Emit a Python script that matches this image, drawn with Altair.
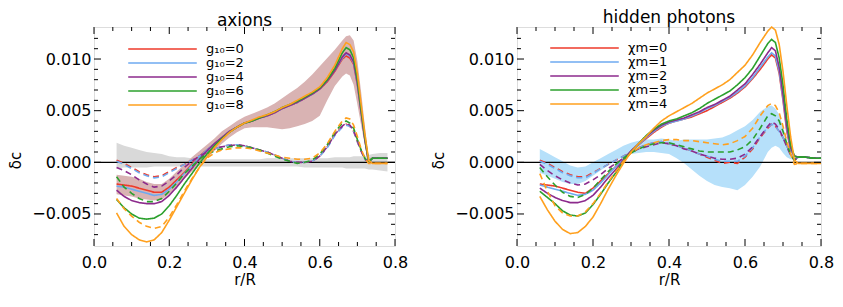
import altair as alt
import pandas as pd

# ---------------- data ----------------
R_LEFT = [0.06, 0.08, 0.10, 0.12, 0.14, 0.16, 0.18, 0.20, 0.22, 0.24, 0.26, 0.28, 0.30, 0.32,
          0.34, 0.36, 0.38, 0.40, 0.42, 0.44, 0.46, 0.48, 0.50, 0.52, 0.54, 0.56, 0.58, 0.60,
          0.62, 0.64, 0.66, 0.67, 0.68, 0.69, 0.70, 0.71, 0.72, 0.73, 0.74, 0.76, 0.78]
R_RIGHT = R_LEFT + [0.80]

AX_LABELS = ["g\u2081\u2080=0", "g\u2081\u2080=2", "g\u2081\u2080=4", "g\u2081\u2080=6", "g\u2081\u2080=8"]
HP_LABELS = ["\u03c7m=0", "\u03c7m=1", "\u03c7m=2", "\u03c7m=3", "\u03c7m=4"]
COLORS = ["#ee3a2a", "#6eaaf0", "#8c2a8c", "#2ba02d", "#ffa01e"]

# axions, solid
L_red_solid = [-0.0021, -0.0022, -0.0023, -0.0025, -0.0027, -0.0029, -0.0029, -0.0024, -0.0017, -0.0010, -0.0002, 0.0006, 0.0012, 0.0018, 0.0024, 0.0030, 0.0034, 0.0038, 0.0040, 0.0043, 0.0045, 0.0048, 0.0052, 0.0055, 0.0058, 0.0062, 0.0066, 0.0071, 0.0078, 0.0088, 0.0100, 0.0103, 0.0101, 0.0095, 0.0075, 0.0048, 0.0022, 0.0000, 0.0004, 0.0004, 0.0004]
L_blue_solid = [-0.0023, -0.0024, -0.0026, -0.0028, -0.0030, -0.0032, -0.0031, -0.0026, -0.0019, -0.0011, -0.0003, 0.0005, 0.0012, 0.0018, 0.0024, 0.0030, 0.0034, 0.0038, 0.0040, 0.0043, 0.0045, 0.0048, 0.0052, 0.0055, 0.0058, 0.0062, 0.0066, 0.0071, 0.0079, 0.0089, 0.0101, 0.0105, 0.0103, 0.0096, 0.0076, 0.0049, 0.0022, 0.0000, 0.0004, 0.0004, 0.0004]
L_purple_solid = [-0.0027, -0.0033, -0.0037, -0.0039, -0.0040, -0.0040, -0.0038, -0.0032, -0.0024, -0.0015, -0.0006, 0.0003, 0.0011, 0.0018, 0.0024, 0.0030, 0.0034, 0.0038, 0.0040, 0.0043, 0.0045, 0.0048, 0.0052, 0.0055, 0.0058, 0.0062, 0.0066, 0.0071, 0.0079, 0.0089, 0.0102, 0.0106, 0.0104, 0.0097, 0.0077, 0.0049, 0.0022, 0.0000, 0.0004, 0.0004, 0.0004]
L_green_solid = [-0.0036, -0.0044, -0.0050, -0.0054, -0.0055, -0.0054, -0.0050, -0.0042, -0.0032, -0.0021, -0.0011, -0.0001, 0.0008, 0.0016, 0.0023, 0.0029, 0.0034, 0.0038, 0.0040, 0.0043, 0.0046, 0.0049, 0.0053, 0.0056, 0.0059, 0.0063, 0.0067, 0.0072, 0.0080, 0.0091, 0.0106, 0.0111, 0.0109, 0.0101, 0.0080, 0.0051, 0.0024, 0.0001, 0.0004, 0.0004, 0.0004]
L_orange_solid = [-0.0049, -0.0062, -0.0070, -0.0075, -0.0077, -0.0075, -0.0068, -0.0056, -0.0043, -0.0030, -0.0017, -0.0005, 0.0005, 0.0014, 0.0022, 0.0029, 0.0034, 0.0038, 0.0041, 0.0044, 0.0046, 0.0049, 0.0053, 0.0056, 0.0060, 0.0064, 0.0068, 0.0073, 0.0082, 0.0094, 0.0110, 0.0116, 0.0114, 0.0107, 0.0086, 0.0056, 0.0027, 0.0002, -0.0001, -0.0001, -0.0001]
# axions, dashed
L_red_dash = [0.0002, -0.0001, -0.0005, -0.0009, -0.0012, -0.0014, -0.0013, -0.0009, -0.0005, -0.0002, 0.0002, 0.0006, 0.0010, 0.0013, 0.0015, 0.0017, 0.0017, 0.0016, 0.0014, 0.0012, 0.0010, 0.0007, 0.0004, 0.0001, 0.0000, 0.0000, 0.0001, 0.0006, 0.0015, 0.0027, 0.0035, 0.0037, 0.0035, 0.0030, 0.0020, 0.0011, 0.0003, 0.0000, 0.0004, 0.0004, 0.0004]
L_blue_dash = [0.0001, -0.0002, -0.0006, -0.0010, -0.0013, -0.0015, -0.0014, -0.0010, -0.0006, -0.0002, 0.0002, 0.0006, 0.0010, 0.0013, 0.0015, 0.0017, 0.0017, 0.0016, 0.0014, 0.0012, 0.0010, 0.0007, 0.0004, 0.0001, 0.0000, 0.0000, 0.0001, 0.0006, 0.0014, 0.0026, 0.0034, 0.0036, 0.0035, 0.0030, 0.0020, 0.0011, 0.0003, 0.0000, 0.0004, 0.0004, 0.0004]
L_purple_dash = [-0.0005, -0.0008, -0.0012, -0.0017, -0.0021, -0.0024, -0.0023, -0.0018, -0.0012, -0.0005, 0.0001, 0.0006, 0.0010, 0.0013, 0.0015, 0.0016, 0.0017, 0.0016, 0.0014, 0.0012, 0.0010, 0.0007, 0.0004, 0.0001, 0.0000, 0.0000, 0.0001, 0.0006, 0.0015, 0.0027, 0.0035, 0.0038, 0.0036, 0.0031, 0.0021, 0.0011, 0.0003, 0.0000, 0.0004, 0.0004, 0.0004]
L_green_dash = [-0.0014, -0.0024, -0.0030, -0.0035, -0.0038, -0.0038, -0.0035, -0.0028, -0.0020, -0.0011, -0.0004, 0.0003, 0.0008, 0.0011, 0.0013, 0.0015, 0.0016, 0.0015, 0.0014, 0.0012, 0.0009, 0.0006, 0.0003, 0.0001, -0.0001, 0.0000, 0.0002, 0.0008, 0.0017, 0.0029, 0.0038, 0.0040, 0.0038, 0.0033, 0.0022, 0.0012, 0.0004, 0.0000, 0.0004, 0.0004, 0.0004]
L_orange_dash = [-0.0035, -0.0045, -0.0052, -0.0058, -0.0062, -0.0064, -0.0062, -0.0053, -0.0041, -0.0028, -0.0016, -0.0005, 0.0004, 0.0009, 0.0012, 0.0013, 0.0014, 0.0014, 0.0013, 0.0011, 0.0009, 0.0007, 0.0005, 0.0004, 0.0003, 0.0003, 0.0004, 0.0009, 0.0018, 0.0030, 0.0040, 0.0043, 0.0042, 0.0036, 0.0025, 0.0013, 0.0004, -0.0001, -0.0001, -0.0001, -0.0001]
# axions, bands
GREY_HI = [0.0019, 0.0016, 0.0014, 0.0012, 0.0010, 0.0009, 0.0008, 0.0006, 0.0005, 0.0005, 0.0004, 0.0004, 0.0003, 0.0003, 0.0003, 0.0003, 0.0003, 0.0003, 0.0003, 0.0003, 0.0004, 0.0004, 0.0004, 0.0004, 0.0004, 0.0004, 0.0004, 0.0004, 0.0004, 0.0005, 0.0005, 0.0005, 0.0005, 0.0006, 0.0006, 0.0006, 0.0006, 0.0007, 0.0008, 0.0009, 0.0009]
GREY_LO = [-0.0006, -0.0005, -0.0005, -0.0005, -0.0005, -0.0004, -0.0004, -0.0004, -0.0004, -0.0004, -0.0004, -0.0004, -0.0004, -0.0004, -0.0004, -0.0004, -0.0004, -0.0004, -0.0004, -0.0004, -0.0004, -0.0004, -0.0004, -0.0004, -0.0004, -0.0005, -0.0005, -0.0005, -0.0005, -0.0005, -0.0005, -0.0006, -0.0006, -0.0006, -0.0006, -0.0006, -0.0006, -0.0007, -0.0007, -0.0008, -0.0009]
ROSY_HI = [-0.0012, -0.0013, -0.0014, -0.0016, -0.0019, -0.0021, -0.0021, -0.0016, -0.0009, -0.0002, 0.0005, 0.0011, 0.0017, 0.0023, 0.0030, 0.0035, 0.0040, 0.0044, 0.0047, 0.0050, 0.0053, 0.0057, 0.0062, 0.0067, 0.0072, 0.0078, 0.0085, 0.0093, 0.0101, 0.0109, 0.0118, 0.0122, 0.0123, 0.0118, 0.0098, 0.0068, 0.0035, 0.0005, 0.0004, 0.0004, 0.0004]
ROSY_LO = [-0.0031, -0.0032, -0.0033, -0.0035, -0.0036, -0.0037, -0.0036, -0.0031, -0.0024, -0.0016, -0.0009, -0.0002, 0.0004, 0.0011, 0.0018, 0.0024, 0.0029, 0.0033, 0.0034, 0.0034, 0.0034, 0.0033, 0.0032, 0.0033, 0.0035, 0.0037, 0.0040, 0.0045, 0.0060, 0.0074, 0.0083, 0.0086, 0.0084, 0.0075, 0.0056, 0.0036, 0.0016, 0.0000, 0.0004, 0.0004, 0.0004]

# hidden photons, solid
R_red_solid = [-0.0021, -0.0022, -0.0023, -0.0025, -0.0027, -0.0029, -0.0030, -0.0025, -0.0018, -0.0011, -0.0004, 0.0003, 0.0011, 0.0017, 0.0023, 0.0029, 0.0034, 0.0038, 0.0040, 0.0042, 0.0044, 0.0047, 0.0050, 0.0054, 0.0058, 0.0062, 0.0067, 0.0073, 0.0081, 0.0090, 0.0100, 0.0104, 0.0101, 0.0086, 0.0060, 0.0030, 0.0012, 0.0006, 0.0005, 0.0005, 0.0004, 0.0004]
R_blue_solid = [-0.0022, -0.0024, -0.0026, -0.0028, -0.0030, -0.0032, -0.0031, -0.0027, -0.0020, -0.0012, -0.0004, 0.0003, 0.0011, 0.0017, 0.0024, 0.0030, 0.0035, 0.0038, 0.0040, 0.0042, 0.0045, 0.0048, 0.0052, 0.0055, 0.0059, 0.0063, 0.0068, 0.0074, 0.0082, 0.0092, 0.0102, 0.0106, 0.0103, 0.0088, 0.0062, 0.0032, 0.0013, 0.0006, 0.0005, 0.0005, 0.0004, 0.0004]
R_purple_solid = [-0.0025, -0.0030, -0.0034, -0.0037, -0.0039, -0.0039, -0.0037, -0.0032, -0.0024, -0.0015, -0.0007, 0.0002, 0.0011, 0.0018, 0.0025, 0.0031, 0.0036, 0.0039, 0.0041, 0.0043, 0.0046, 0.0049, 0.0053, 0.0056, 0.0060, 0.0064, 0.0070, 0.0076, 0.0085, 0.0095, 0.0106, 0.0111, 0.0108, 0.0092, 0.0066, 0.0035, 0.0014, 0.0006, 0.0005, 0.0005, 0.0004, 0.0004]
R_green_solid = [-0.0028, -0.0034, -0.0040, -0.0047, -0.0051, -0.0052, -0.0049, -0.0041, -0.0031, -0.0020, -0.0010, 0.0001, 0.0010, 0.0018, 0.0026, 0.0032, 0.0037, 0.0040, 0.0042, 0.0045, 0.0048, 0.0052, 0.0057, 0.0061, 0.0065, 0.0069, 0.0075, 0.0082, 0.0091, 0.0103, 0.0115, 0.0119, 0.0116, 0.0101, 0.0075, 0.0042, 0.0017, 0.0006, 0.0005, 0.0005, 0.0004, 0.0004]
R_orange_solid = [-0.0033, -0.0046, -0.0057, -0.0065, -0.0069, -0.0068, -0.0062, -0.0053, -0.0040, -0.0026, -0.0013, -0.0001, 0.0010, 0.0018, 0.0025, 0.0033, 0.0040, 0.0045, 0.0049, 0.0053, 0.0057, 0.0062, 0.0067, 0.0071, 0.0075, 0.0080, 0.0087, 0.0094, 0.0104, 0.0116, 0.0127, 0.0131, 0.0128, 0.0114, 0.0088, 0.0055, 0.0025, 0.0002, -0.0001, -0.0001, -0.0001, -0.0001]
# hidden photons, dashed
R_red_dash = [0.0002, -0.0001, -0.0005, -0.0009, -0.0012, -0.0014, -0.0014, -0.0010, -0.0006, -0.0002, 0.0002, 0.0006, 0.0010, 0.0014, 0.0017, 0.0019, 0.0020, 0.0018, 0.0016, 0.0014, 0.0011, 0.0008, 0.0005, 0.0002, -0.0001, 0.0000, -0.0001, 0.0005, 0.0013, 0.0024, 0.0033, 0.0037, 0.0035, 0.0030, 0.0024, 0.0016, 0.0008, 0.0002, 0.0005, 0.0005, 0.0004, 0.0004]
R_blue_dash = [0.0001, -0.0002, -0.0006, -0.0010, -0.0013, -0.0015, -0.0015, -0.0011, -0.0006, -0.0002, 0.0002, 0.0006, 0.0010, 0.0014, 0.0017, 0.0019, 0.0020, 0.0018, 0.0016, 0.0014, 0.0011, 0.0008, 0.0006, 0.0003, 0.0001, 0.0001, 0.0001, 0.0006, 0.0014, 0.0025, 0.0034, 0.0037, 0.0035, 0.0030, 0.0024, 0.0016, 0.0008, 0.0002, 0.0005, 0.0005, 0.0004, 0.0004]
R_purple_dash = [-0.0002, -0.0008, -0.0013, -0.0017, -0.0020, -0.0022, -0.0021, -0.0017, -0.0012, -0.0006, -0.0001, 0.0004, 0.0009, 0.0013, 0.0015, 0.0017, 0.0019, 0.0018, 0.0016, 0.0013, 0.0011, 0.0008, 0.0006, 0.0004, 0.0003, 0.0003, 0.0004, 0.0008, 0.0015, 0.0025, 0.0035, 0.0039, 0.0037, 0.0032, 0.0024, 0.0015, 0.0007, 0.0002, 0.0005, 0.0005, 0.0004, 0.0004]
R_green_dash = [-0.0005, -0.0014, -0.0022, -0.0029, -0.0033, -0.0034, -0.0031, -0.0025, -0.0017, -0.0009, -0.0002, 0.0004, 0.0009, 0.0013, 0.0016, 0.0018, 0.0019, 0.0019, 0.0017, 0.0015, 0.0013, 0.0011, 0.0010, 0.0010, 0.0010, 0.0010, 0.0012, 0.0015, 0.0022, 0.0033, 0.0045, 0.0047, 0.0045, 0.0040, 0.0030, 0.0018, 0.0008, 0.0002, 0.0005, 0.0005, 0.0004, 0.0004]
R_orange_dash = [-0.0011, -0.0028, -0.0042, -0.0049, -0.0052, -0.0052, -0.0048, -0.0040, -0.0030, -0.0019, -0.0009, 0.0001, 0.0009, 0.0014, 0.0017, 0.0019, 0.0021, 0.0022, 0.0022, 0.0021, 0.0021, 0.0020, 0.0019, 0.0018, 0.0017, 0.0018, 0.0021, 0.0025, 0.0033, 0.0045, 0.0055, 0.0057, 0.0055, 0.0048, 0.0035, 0.0020, 0.0008, -0.0002, -0.0001, -0.0001, -0.0001, -0.0001]
# hidden photons, band
BLUE_HI = [0.0013, 0.0009, 0.0005, 0.0001, -0.0003, -0.0005, -0.0004, 0.0000, 0.0004, 0.0008, 0.0012, 0.0016, 0.0019, 0.0021, 0.0022, 0.0022, 0.0023, 0.0022, 0.0021, 0.0022, 0.0022, 0.0022, 0.0022, 0.0023, 0.0024, 0.0027, 0.0031, 0.0035, 0.0041, 0.0049, 0.0054, 0.0055, 0.0052, 0.0046, 0.0035, 0.0022, 0.0010, 0.0004, 0.0004, 0.0004, 0.0004, 0.0004]
BLUE_LO = [-0.0010, -0.0013, -0.0016, -0.0019, -0.0021, -0.0021, -0.0018, -0.0013, -0.0008, -0.0003, 0.0002, 0.0005, 0.0008, 0.0009, 0.0010, 0.0010, 0.0009, 0.0008, 0.0004, -0.0001, -0.0007, -0.0013, -0.0018, -0.0022, -0.0024, -0.0025, -0.0027, -0.0022, -0.0014, -0.0004, 0.0010, 0.0014, 0.0016, 0.0014, 0.0009, 0.0005, 0.0003, 0.0003, 0.0004, 0.0004, 0.0004, 0.0004]

X_MAJOR = [0.0, 0.2, 0.4, 0.6, 0.8]
X_MINOR = [0.05, 0.10, 0.15, 0.25, 0.30, 0.35, 0.45, 0.50, 0.55, 0.65, 0.70, 0.75]
Y_MAJOR = [-0.005, 0.0, 0.005, 0.010]
Y_MINOR = [-0.007, -0.006, -0.004, -0.003, -0.002, -0.001, 0.001, 0.002, 0.003, 0.004,
           0.006, 0.007, 0.008, 0.009, 0.011, 0.012]

FONT = "DejaVu Sans"
X_DOMAIN = [0.0, 0.8]
Y_DOMAIN = [-0.0081, 0.0131]
H = 219

XAXIS = alt.Axis(values=X_MAJOR, format=".1f", ticks=False, domain=False, grid=False,
                 labelFont=FONT, labelFontSize=16, labelColor="black", labelPadding=8,
                 titleFont=FONT, titleFontSize=15, titleFontWeight="normal",
                 titleColor="black", titlePadding=2, labelFlush=False, title="r/R")
YAXIS = alt.Axis(values=Y_MAJOR, format=".3f", ticks=False, domain=False, grid=False,
                 labelFont=FONT, labelFontSize=16, labelColor="black", labelPadding=3,
                 titleFont=FONT, titleFontSize=15, titleFontWeight="normal",
                 titleColor="black", titlePadding=8, titleY=133, labelFlush=False, title="\u03b4c")


def long_table(r, labels, solids, dashes):
    rows = []
    for lab, s, d in zip(labels, solids, dashes):
        for rv, v in zip(r, s):
            rows.append({"r": rv, "dc": v, "series": lab, "kind": "solid"})
        for rv, v in zip(r, d):
            rows.append({"r": rv, "dc": v, "series": lab, "kind": "dashed"})
    return pd.DataFrame(rows)


def panel(title, r, labels, solids, dashes, bands, width, lx, ly):
    xs = alt.Scale(domain=X_DOMAIN, nice=False, zero=False)
    ys = alt.Scale(domain=Y_DOMAIN, nice=False, zero=False)
    layers = []
    for lo, hi, col in bands:
        bdf = pd.DataFrame({"r": r, "lo": lo, "hi": hi})
        layers.append(alt.Chart(bdf).mark_area(color=col, opacity=1).encode(
            x=alt.X("r:Q", scale=xs, axis=XAXIS),
            y=alt.Y("lo:Q", scale=ys, axis=YAXIS),
            y2="hi:Q"))
    layers.append(alt.Chart(pd.DataFrame({"r": [0.0]})).mark_rule(color="black", strokeWidth=1.3).encode(
        y=alt.Y(datum=0.0, scale=ys, axis=YAXIS)))
    df = long_table(r, labels, solids, dashes)
    lines = alt.Chart(df).mark_line(strokeWidth=1.6).encode(
        x=alt.X("r:Q", scale=xs, axis=XAXIS),
        y=alt.Y("dc:Q", scale=ys, axis=YAXIS),
        color=alt.Color("series:N", scale=alt.Scale(domain=labels, range=COLORS),
                        legend=alt.Legend(orient="none", legendX=lx, legendY=ly, title=None,
                                          symbolType="stroke", symbolSize=4700, symbolStrokeWidth=1.6,
                                          clipHeight=14, rowPadding=0, labelOffset=8,
                                          labelFont=FONT, labelFontSize=13, labelColor="black",
                                          padding=0)),
        strokeDash=alt.StrokeDash("kind:N", scale=alt.Scale(domain=["solid", "dashed"],
                                                             range=[[1, 0], [6, 4]]), legend=None),
        detail="kind:N")
    layers.append(lines)

    def xt(vals, top, ln):
        d = pd.DataFrame({"v": vals})
        y1, y2 = (0, ln) if top else (H, H - ln)
        return alt.Chart(d).mark_rule(color="black", strokeWidth=1).encode(
            x=alt.X("v:Q", scale=xs, axis=XAXIS), y=alt.value(y1), y2=alt.value(y2))

    def yt(vals, right, ln):
        d = pd.DataFrame({"v": vals})
        x1, x2 = (width, width - ln) if right else (0, ln)
        return alt.Chart(d).mark_rule(color="black", strokeWidth=1).encode(
            y=alt.Y("v:Q", scale=ys, axis=YAXIS), x=alt.value(x1), x2=alt.value(x2))

    layers += [xt(X_MAJOR, False, 7), xt(X_MAJOR, True, 7), xt(X_MINOR, False, 4), xt(X_MINOR, True, 4),
               yt(Y_MAJOR, False, 7), yt(Y_MAJOR, True, 7), yt(Y_MINOR, False, 4), yt(Y_MINOR, True, 4)]
    return alt.layer(*layers).properties(
        width=width, height=H,
        title=alt.Title(title, font=FONT, fontSize=17, fontWeight="normal", color="black", offset=-3))


left = panel("axions", R_LEFT, AX_LABELS,
             [L_red_solid, L_blue_solid, L_purple_solid, L_green_solid, L_orange_solid],
             [L_red_dash, L_blue_dash, L_purple_dash, L_green_dash, L_orange_dash],
             [(GREY_LO, GREY_HI, "#d9d9d9"), (ROSY_LO, ROSY_HI, "#d9b3b3")],
             301, 33, 15)
right = panel("hidden photons", R_RIGHT, HP_LABELS,
              [R_red_solid, R_blue_solid, R_purple_solid, R_green_solid, R_orange_solid],
              [R_red_dash, R_blue_dash, R_purple_dash, R_green_dash, R_orange_dash],
              [(BLUE_LO, BLUE_HI, "#b6e0fa")],
              304, 32, 14)

chart = alt.hconcat(left, right, spacing=22, padding=0).resolve_scale(
    x="independent", y="independent", color="independent", strokeDash="independent"
).resolve_legend(color="independent").configure_view(stroke="black", strokeWidth=1.2
).configure(background="white")

chart.save("out.html", embed_options={"renderer": "svg", "actions": False})
